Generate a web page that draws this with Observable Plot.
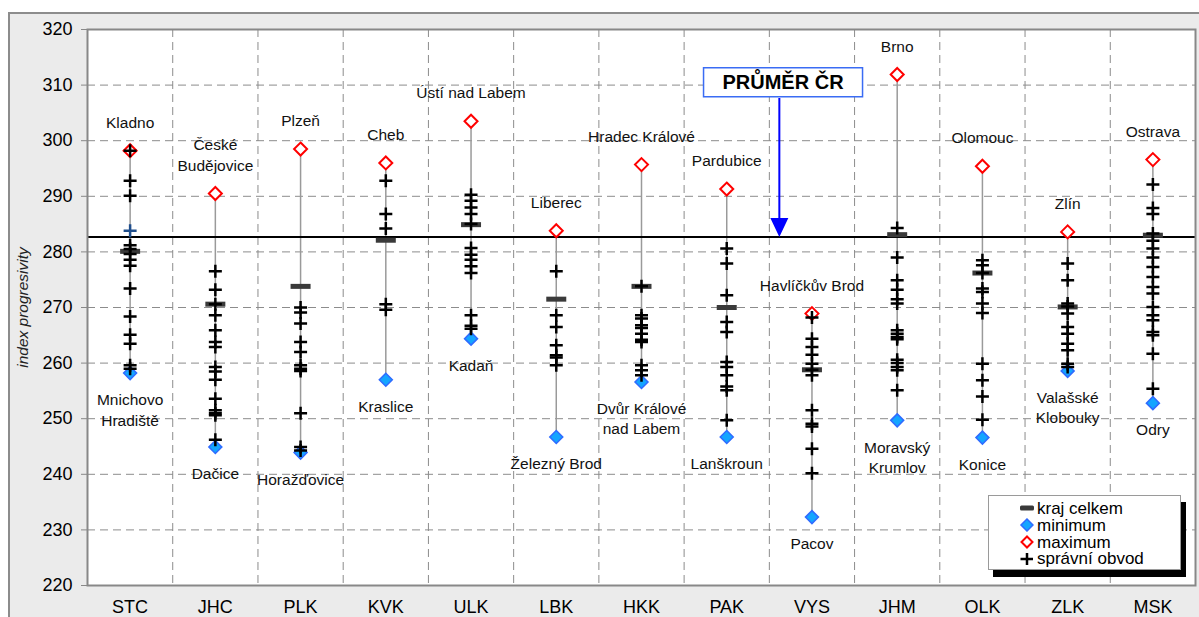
<!DOCTYPE html>
<html><head><meta charset="utf-8">
<script src="https://cdn.jsdelivr.net/npm/d3@7"></script>
<script src="https://cdn.jsdelivr.net/npm/@observablehq/plot@0.6"></script>
<style>
body{margin:0;background:#fff;font-family:"Liberation Sans",Arial,sans-serif;}
#wrap{position:relative;width:1199px;height:617px;overflow:hidden;background:#fff;}
#outer{position:absolute;left:8px;top:12px;width:1200px;height:620px;background:#ebebeb;border-left:2px solid #8c8c8c;border-top:2px solid #8c8c8c;}
#chart{position:absolute;left:0;top:0;}
#legend{position:absolute;left:988px;top:495px;width:193px;height:75px;background:#fff;border:1px solid #9a9a9a;box-shadow:5px 7px 0 #000;box-sizing:border-box;font-size:17px;line-height:17px;padding-top:4px;color:#000;}
.row{display:flex;align-items:center;height:16.8px;white-space:nowrap;}
.row svg{margin-left:30px;margin-right:3px;flex:none;}
</style>
</head><body>
<div id="wrap"><div id="outer"></div><div id="chart"></div>
<div id="legend">
<div class="row"><svg width="15" height="12"><rect x="1" y="3.5" width="14" height="5" rx="1.5" fill="#3a3a3a"/></svg>kraj celkem</div>
<div class="row"><svg width="15" height="14"><path d="M8,1 L14,7 L8,13 L2,7 Z" fill="#14a5ff" stroke="#2f6bff" stroke-width="1.5"/></svg>minimum</div>
<div class="row"><svg width="15" height="14"><path d="M8,1.5 L13.5,7 L8,12.5 L2.5,7 Z" fill="#fff" stroke="red" stroke-width="2"/></svg>maximum</div>
<div class="row"><svg width="15" height="14"><path d="M1.5,7 L14,7 M8,1 L8,13" stroke="#000" stroke-width="2.5"/></svg>správní obvod</div>
</div>
</div>
<script>
const regions = ["STC","JHC","PLK","KVK","ULK","LBK","HKK","PAK","VYS","JHM","OLK","ZLK","MSK"];
const krajCelkem = [280.1,270.6,273.8,282.1,284.9,271.5,273.8,270.0,258.8,283.1,276.2,270.1,283.0];
const minValues = [258.2,244.9,243.9,257.0,264.4,246.7,256.6,246.7,232.3,249.7,246.6,258.6,252.8];
const maxValues = [298.2,290.5,298.5,296.0,303.5,283.8,295.7,291.3,268.9,311.9,295.4,283.6,296.6];
const minNames = ["Mnichovo\nHradiště","Dačice","Horažďovice","Kraslice","Kadaň","Železný Brod","Dvůr Králové\nnad Labem","Lanškroun","Pacov","Moravský\nKrumlov","Konice","Valašské\nKlobouky","Odry"];
const maxNames = ["Kladno","České\nBudějovice","Plzeň","Cheb","Ústí nad Labem","Liberec","Hradec Králové","Pardubice","Havlíčkův Brod","Brno","Olomouc","Zlín","Ostrava"];
const prumerCR = 282.7;
const prumerLabel = "PRŮMĚR ČR";
const yTicks = [220,230,240,250,260,270,280,290,300,310,320];

const stcObvody = [298.2,292.8,290.1,281.2,280.5,279.6,278.6,277.5,273.4,268.4,265.1,263.5,259.6,259.0];
const stcHighlight = [283.8];
const jhcObvody = [276.5,273.2,270.6,268.6,265.9,263.8,262.9,259.3,258.5,257.0,253.6,251.5,251.0,250.6,246.2];
const plkObvody = [270.0,269.1,267.1,263.8,262.0,259.6,259.0,258.6,251.0,244.9,244.3];
const kvkObvody = [292.8,286.8,284.2,270.6,269.6];
const ulkObvody = [290.3,289.2,288.0,286.8,285.0,280.7,279.5,278.6,277.4,276.2,268.6,266.7,266.2];
const lbkObvody = [276.5,268.6,266.5,263.2,261.4,261.0,259.6];
const hkkObvody = [273.8,268.6,268.0,266.8,266.3,265.3,264.2,263.8,259.6,258.7,257.8];
const pakObvody = [280.6,277.9,272.2,267.4,265.6,260.2,259.3,257.8,255.8,255.1,249.7];
const vysObvody = [268.2,264.4,262.9,261.5,259.9,258.8,257.8,251.5,249.1,248.6,244.6,240.2];
const jhmObvody = [284.3,279.0,274.9,273.2,271.5,270.7,265.9,265.3,264.7,264.3,260.6,260.0,259.3,258.7,255.1];
const olkObvody = [278.5,277.6,276.2,273.4,272.8,270.7,269.0,259.9,256.9,254.0,249.8];
const zlkObvody = [277.9,274.9,270.7,270.2,268.9,266.5,265.3,263.5,262.3,259.9,259.3];
const mskObvody = [292.1,287.9,286.8,283.3,282.0,280.6,279.0,277.3,275.5,273.7,272.5,270.1,268.6,267.7,265.6,265.0,261.7,255.4];

const obvodyLists = [stcObvody,jhcObvody,plkObvody,kvkObvody,ulkObvody,lbkObvody,hkkObvody,pakObvody,vysObvody,jhmObvody,olkObvody,zlkObvody,mskObvody];

const regionRows = regions.map((r,i)=>({i, region:r, kraj:krajCelkem[i], min:minValues[i], max:maxValues[i], minName:minNames[i], maxName:maxNames[i]}));
const obvodRows = obvodyLists.flatMap((arr,i)=>arr.map(v=>({i, v})));
const highlightRows = stcHighlight.map(v=>({i:0, v}));

const plusSym = {draw(c){c.moveTo(-6.5,0);c.lineTo(6.5,0);c.moveTo(0,-6.5);c.lineTo(0,6.5);}};
const diamondSym = {draw(c){c.moveTo(0,-6.5);c.lineTo(6.5,0);c.lineTo(0,6.5);c.lineTo(-6.5,0);c.closePath();}};
const dashSym = {draw(c){c.rect(-10,-2.5,20,5);}};
const arrowSym = {draw(c){c.moveTo(-1,-139);c.lineTo(1,-139);c.lineTo(1,-19);c.lineTo(9,-19);c.lineTo(0,0);c.lineTo(-9,-19);c.lineTo(-1,-19);c.closePath();}};
const boxSym = {draw(c){c.rect(-79.5,-14.5,159,29);}};

const font = '"Liberation Sans", Arial, sans-serif';
const grid = {stroke:"#8c8c8c", strokeOpacity:1, strokeDasharray:"8,5", strokeWidth:1};

const chart = Plot.plot({
  width: 1199, height: 617,
  marginLeft: 87, marginRight: 4, marginTop: 29, marginBottom: 32,
  style: {background:"transparent", fontFamily: font, fontSize:"18px", color:"#000"},
  x: {domain:[-0.5, 12.5]},
  y: {domain:[220, 320]},
  marks: [
    Plot.frame({fill:"white", stroke:null}),
    Plot.gridY(yTicks.slice(1,-1), grid),
    Plot.gridX(d3.range(0.5, 12, 1), grid),
    Plot.ruleX(regionRows, {x:"i", y1:"min", y2:"max", stroke:"#9a9a9a", strokeWidth:1.5}),
    Plot.ruleY([prumerCR], {stroke:"#000", strokeWidth:2}),
    Plot.dot(regionRows, {x:"i", y:"min", symbol:diamondSym, fill:"#14a5ff", stroke:"#2f6bff", strokeWidth:1.5}),
    Plot.dot(regionRows, {x:"i", y:"max", symbol:diamondSym, fill:"#fff", stroke:"red", strokeWidth:2}),
    Plot.dot(regionRows, {x:"i", y:"kraj", symbol:dashSym, fill:"#3a3a3a", stroke:"none"}),
    Plot.dot(obvodRows, {x:"i", y:"v", symbol:plusSym, fill:"none", stroke:"#000", strokeWidth:2.5}),
    Plot.dot(highlightRows, {x:"i", y:"v", symbol:plusSym, fill:"none", stroke:"#1f4e8c", strokeWidth:2.5}),
    Plot.text(regionRows, {x:"i", y:"max", text:"maxName", lineAnchor:"bottom", lineHeight:1.3, dy:-23, fontSize:15.5, fill:"#111"}),
    Plot.text(regionRows, {x:"i", y:"min", text:"minName", lineAnchor:"top", lineHeight:1.3, dy:18, fontSize:15.5, fill:"#111"}),
    Plot.dot([prumerCR], {x:7.5, y:d=>d, dx:10, symbol:arrowSym, fill:"#0000ff", stroke:"none"}),
    Plot.dot([prumerCR], {x:7.5, y:d=>d, dx:13.7, dy:-154.7, symbol:boxSym, fill:"#fff", stroke:"#3a6cf4", strokeWidth:1.5}),
    Plot.text([prumerLabel], {x:7.5, y:()=>prumerCR, dx:13.7, dy:-154.7, text:d=>d, fontSize:20, fontWeight:"bold", fill:"#000"}),
    Plot.axisY(yTicks, {tickSize:6, tickPadding:9, fontSize:18, label:null, stroke:"#888"}),
    Plot.axisX(d3.range(13), {tickFormat:i=>regions[i], tickSize:0, tickPadding:15, fontSize:18, label:null}),
    Plot.text(["index progresivity"], {frameAnchor:"left", textAnchor:"middle", rotate:-90, dx:-64, fontStyle:"italic", fontSize:15.5, fill:"#222"}),
    Plot.frame({stroke:"#888", strokeWidth:2})
  ]
});
document.getElementById("chart").appendChild(chart);
</script>
</body></html>
